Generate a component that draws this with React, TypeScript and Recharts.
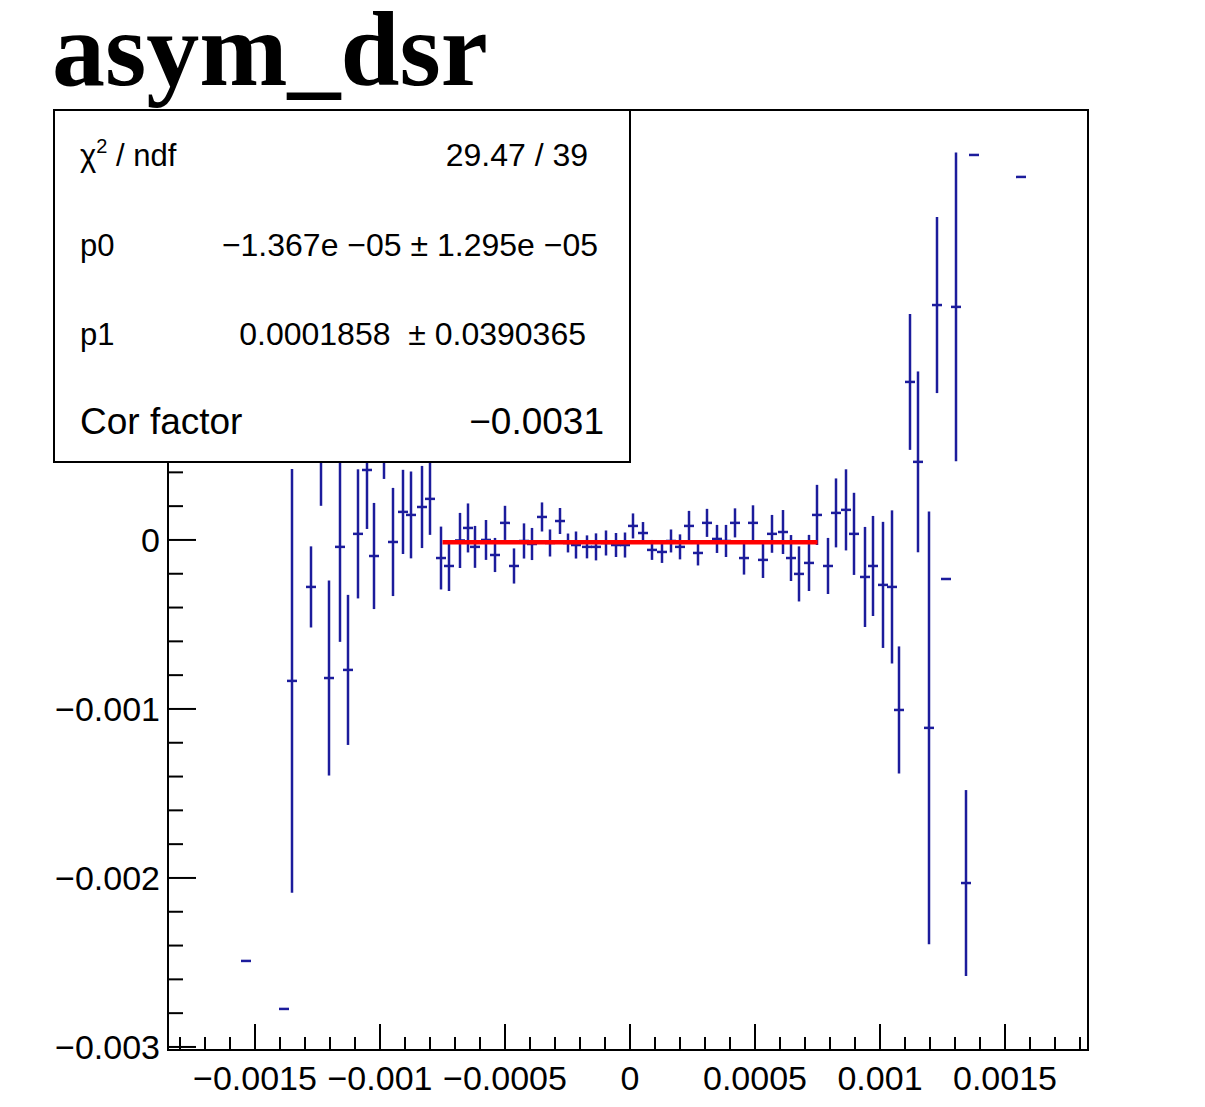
import React from 'react';
import { ScatterChart, Scatter, XAxis, YAxis, ErrorBar, ReferenceArea } from 'recharts';

// bin centres of the asym_dsr histogram
const binX = [
  -0.001536, -0.001384, -0.001352, -0.001276, -0.001236, -0.001204, -0.00116, -0.001128, -0.001088,
  -0.001052, -0.001024, -0.000984, -0.000948, -0.000908, -0.000876, -0.000832, -0.0008,
  -0.000756, -0.000724, -0.00068, -0.000648, -0.00062, -0.000576, -0.00054, -0.0005, -0.000464,
  -0.000424, -0.000392, -0.000352, -0.00032, -0.00028, -0.000248, -0.000216, -0.000172, -0.000136,
  -0.000096, -0.000056, -0.00002,
  0.000012, 0.000052, 0.000088, 0.000128, 0.000164, 0.0002, 0.000236, 0.000272, 0.000308, 0.000348,
  0.000384, 0.00042, 0.000456, 0.000492, 0.000532, 0.000568, 0.000612, 0.000644, 0.000676, 0.000716,
  0.000748,
  0.000792, 0.000824, 0.000864, 0.000896, 0.00094, 0.000972, 0.001012, 0.001048, 0.001076, 0.00112,
  0.001152, 0.001196, 0.001228, 0.001264, 0.001304, 0.001344, 0.001376, 0.001564,
];

const asymY = [
  -0.002491, -0.002775, -0.000834, -0.000278, 0.000533, -0.000817, -0.000041, -0.000769, 0.000036,
  0.000414, -0.000095, 0.000592, -0.000012, 0.000166, 0.000148, 0.000195, 0.000243,
  -0.000107, -0.000154, -0.000003, 0.000071, -0.000041, 0.0, -0.000089, 0.000101, -0.000154,
  -0.000006, -0.000024, 0.000136, -0.000018, 0.000112, -0.000018, -0.00003, -0.000041, -0.000041,
  -0.000018, -0.00003, -0.00003,
  0.000083, 0.000041, -0.000059, -0.000071, -0.000006, -0.000041, 0.000083, -0.000077, 0.000101,
  0.000006, -0.000006, 0.000101, -0.000107, 0.000101, -0.000118, 0.000036, 0.000047, -0.000107,
  -0.000201, -0.000136, 0.000148,
  -0.000154, 0.00016, 0.000178, 0.000036, -0.000219, -0.000154, -0.000266, -0.000278, -0.001006,
  0.000935, 0.000462, -0.001112, 0.00139, -0.000231, 0.001379, -0.00203, 0.002278, 0.002148,
];

const asymErr = [
  0, 0, 0.001254, 0.00024, 0.000331, 0.000577, 0.000562, 0.000444, 0.000382,
  0.000349, 0.000314, 0.000231, 0.00032, 0.000249, 0.000257, 0.000243, 0.000213,
  0.000186, 0.000148, 0.000163, 0.000145, 0.000124, 0.000118, 0.000101, 0.000101, 0.000104,
  0.000104, 0.000095, 0.000086, 0.00008, 0.000077, 0.000056, 0.00008, 0.000068, 0.00008,
  0.000074, 0.000071, 0.000074,
  0.000074, 0.000065, 0.000059, 0.000065, 0.000068, 0.000074, 0.000089, 0.000074, 0.000083,
  0.000083, 0.000095, 0.000086, 0.000098, 0.000104, 0.000107, 0.000112, 0.00013, 0.000136,
  0.000163, 0.000166, 0.000178,
  0.000166, 0.000204, 0.00024, 0.000243, 0.000296, 0.000296, 0.000373, 0.000453, 0.000376,
  0.000402, 0.000535, 0.001281, 0.000521, 0, 0.000914, 0.00055, 0, 0,
];

const binHalfWidth = 0.00002;

// pol1 fit over [-0.00075, 0.00075]
const fitX = [-0.00075, 0.00075];
const fitY = [-0.00001381, -0.00001353];

const xMajorTicks = [-0.0015, -0.001, -0.0005, 0, 0.0005, 0.001, 0.0015];
const yMajorTicks = [-0.003, -0.002, -0.001, 0, 0.001, 0.002];

const statRows = [
  { label: 'p0', value: '\u22121.367e \u221205 \u00b1 1.295e \u221205', right: 598, base: 256 },
  { label: 'p1', value: '0.0001858  \u00b1 0.0390365', right: 586, base: 345 },
];

const X_DOMAIN: [number, number] = [-0.001848, 0.001832];
const Y_DOMAIN: [number, number] = [-0.003018, 0.002544];

const FRAME_LEFT = 168;
const FRAME_BOTTOM = 1050;
const BLUE = '#1c1c9c';
const FONT = '"Liberation Sans", Arial, Helvetica, sans-serif';

const xMinorTicks: number[] = [];
for (let i = -18; i <= 18; i++) xMinorTicks.push(Number((i * 0.0001).toFixed(6)));
const yMinorTicks: number[] = [];
for (let i = -15; i <= 12; i++) yMinorTicks.push(Number((i * 0.0002).toFixed(6)));

const isMajor = (list: number[], v: number) => list.some((m) => Math.abs(m - v) < 1e-9);
const fmt = (v: number) => String(v).replace('-', '\u2212');

const points = binX.map((x, i) => ({ x, y: asymY[i], ey: asymErr[i], ex: binHalfWidth }));
const fitPoints = fitX.map((x, i) => ({ x, y: fitY[i] }));

const XTick = (props: any) => {
  const { x, payload } = props;
  const major = isMajor(xMajorTicks, payload.value);
  return (
    <g>
      <line x1={x} x2={x} y1={FRAME_BOTTOM} y2={FRAME_BOTTOM - (major ? 26 : 13)} stroke="#000" strokeWidth={2} />
      {major && (
        <text x={x} y={1090} textAnchor="middle" fontFamily={FONT} fontSize={34} fill="#000">
          {fmt(payload.value)}
        </text>
      )}
    </g>
  );
};

const YTick = (props: any) => {
  const { y, payload } = props;
  const major = isMajor(yMajorTicks, payload.value);
  return (
    <g>
      <line x1={FRAME_LEFT} x2={FRAME_LEFT + (major ? 28 : 15)} y1={y} y2={y} stroke="#000" strokeWidth={2} />
      {major && (
        <text x={160} y={y + 12} textAnchor="end" fontFamily={FONT} fontSize={34} fill="#000">
          {fmt(payload.value)}
        </text>
      )}
    </g>
  );
};

const noMarker = () => <g />;

export default function App() {
  return (
    <div style={{ position: 'absolute', left: 0, top: 0, width: 1205, height: 1107, background: '#fff' }}>
      <ScatterChart width={1205} height={1107} margin={{ top: 110, right: 117, bottom: 0, left: 0 }}>
        <XAxis
          type="number"
          dataKey="x"
          domain={X_DOMAIN}
          ticks={xMinorTicks}
          interval={0}
          height={57}
          axisLine={false}
          tickLine={false}
          tick={<XTick />}
          allowDataOverflow
        />
        <YAxis
          type="number"
          dataKey="y"
          domain={Y_DOMAIN}
          ticks={yMinorTicks}
          interval={0}
          width={168}
          axisLine={false}
          tickLine={false}
          tick={<YTick />}
          allowDataOverflow
        />
        <ReferenceArea
          x1={X_DOMAIN[0]}
          x2={X_DOMAIN[1]}
          y1={Y_DOMAIN[0]}
          y2={Y_DOMAIN[1]}
          fill="none"
          stroke="#000"
          strokeWidth={2}
          ifOverflow="visible"
        />
        <Scatter data={points} shape={noMarker} isAnimationActive={false}>
          <ErrorBar dataKey="ey" direction="y" width={0} stroke={BLUE} strokeWidth={2.5} isAnimationActive={false} />
          <ErrorBar dataKey="ex" direction="x" width={0} stroke={BLUE} strokeWidth={2.5} isAnimationActive={false} />
        </Scatter>
        <Scatter
          data={fitPoints}
          shape={noMarker}
          line={{ stroke: '#ff0000', strokeWidth: 4.5 }}
          isAnimationActive={false}
        />
      </ScatterChart>

      <svg width={1205} height={1107} style={{ position: 'absolute', left: 0, top: 0, pointerEvents: 'none' }}>
        <text x={52} y={85} fontFamily='"Liberation Serif", "Times New Roman", serif' fontWeight="bold" fontSize={106} fill="#000">
          asym_dsr
        </text>
        <rect x={54} y={110} width={576} height={352} fill="#fff" stroke="#000" strokeWidth={2} />
        <text x={80} y={166} fontFamily={FONT} fontSize={31} fill="#000">
          {'\u03c7'}
          <tspan fontSize={20} dy={-13}>2</tspan>
          <tspan dy={13}>{' / ndf'}</tspan>
        </text>
        <text x={588} y={166} textAnchor="end" fontFamily={FONT} fontSize={32} fill="#000">
          29.47 / 39
        </text>
        {statRows.map((r) => (
          <g key={r.label}>
            <text x={80} y={r.base} fontFamily={FONT} fontSize={31} fill="#000">
              {r.label}
            </text>
            <text x={r.right} y={r.base} textAnchor="end" fontFamily={FONT} fontSize={32} fill="#000" style={{ whiteSpace: 'pre' }}>
              {r.value}
            </text>
          </g>
        ))}
        <text x={80} y={434} fontFamily={FONT} fontSize={37} fill="#000">
          Cor factor
        </text>
        <text x={604} y={434} textAnchor="end" fontFamily={FONT} fontSize={37} fill="#000">
          {'\u22120.0031'}
        </text>
      </svg>
    </div>
  );
}
